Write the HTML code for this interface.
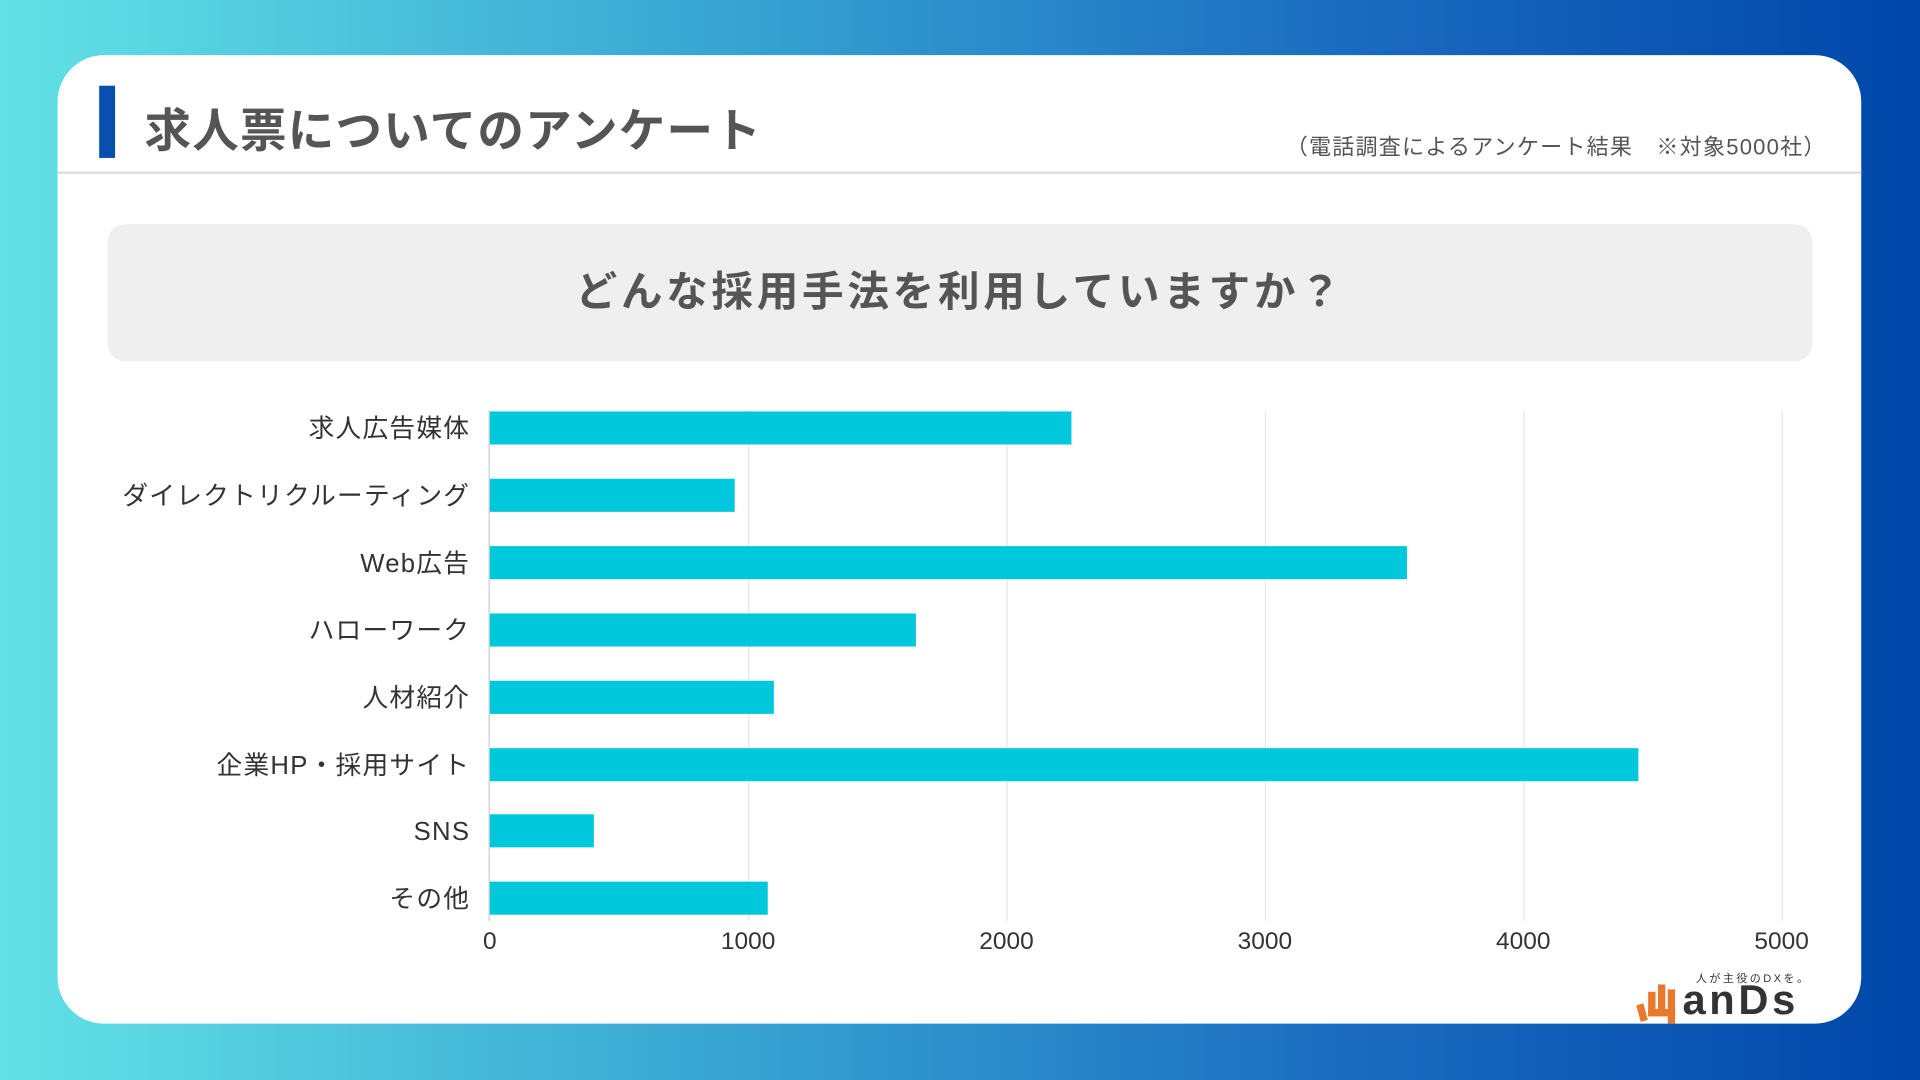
<!DOCTYPE html>
<html><head><meta charset="utf-8"><style>
html,body{margin:0;padding:0;width:1920px;height:1080px;overflow:hidden}
body{background:linear-gradient(90deg,#62e2e6 0%,#3aa9d4 35%,#1a6cc0 70%,#0046aa 100%);font-family:"Liberation Sans","Noto Sans CJK JP",sans-serif}
#w{position:absolute;left:0;top:0;width:1568px;height:882px;transform:scale(1.22449);transform-origin:0 0}
.card{position:absolute;left:47px;top:45px;width:1473px;height:791px;background:#fff;border-radius:38px}
.abs{position:absolute}
.lbl{position:absolute;right:1184px;font-size:21px;color:#333;white-space:nowrap;line-height:26px;letter-spacing:1px}
.bar{position:absolute;left:400px;height:27px;background:#00c8dc}
.grid{position:absolute;top:335px;height:417px;width:1px;background:#e6e6e6}
.tk{position:absolute;top:758px;font-size:20px;color:#333;width:80px;text-align:center}
</style></head><body><div id="w">
<div class="card"></div>
<div class="abs" style="left:81px;top:70px;width:13px;height:59px;background:#0a4fb0"></div>
<div class="abs" style="left:118px;top:76px;font-size:38px;font-weight:bold;color:#555;letter-spacing:1px">求人票についてのアンケート</div>
<div class="abs" style="left:1050px;top:106px;font-size:18px;color:#555;white-space:nowrap;letter-spacing:1px">（電話調査によるアンケート結果　※対象5000社）</div>
<div class="abs" style="left:47px;top:140px;width:1473px;height:2px;background:#ddd"></div>
<div class="abs" style="left:88px;top:183px;width:1392px;height:112px;background:#efefef;border-radius:14px;text-align:center;line-height:112px;font-size:34px;font-weight:bold;color:#555;letter-spacing:3px">どんな採用手法を利用していますか？</div>
<div class="grid" style="left:611px"></div><div class="grid" style="left:822px"></div><div class="grid" style="left:1033px"></div><div class="grid" style="left:1244px"></div><div class="grid" style="left:1455px"></div>
<div class="abs" style="left:399px;top:335px;width:1px;height:417px;background:#ccc"></div>
<div class="bar" style="top:336px;width:475px"></div>
<div class="bar" style="top:391px;width:200px"></div>
<div class="bar" style="top:446px;width:749px"></div>
<div class="bar" style="top:501px;width:348px"></div>
<div class="bar" style="top:556px;width:232px"></div>
<div class="bar" style="top:611px;width:938px"></div>
<div class="bar" style="top:665px;width:85px"></div>
<div class="bar" style="top:720px;width:227px"></div>
<div class="lbl" style="top:338px">求人広告媒体</div>
<div class="lbl" style="top:393px">ダイレクトリクルーティング</div>
<div class="lbl" style="top:448px">Web広告</div>
<div class="lbl" style="top:503px">ハローワーク</div>
<div class="lbl" style="top:558px">人材紹介</div>
<div class="lbl" style="top:613px">企業HP・採用サイト</div>
<div class="lbl" style="top:667px">SNS</div>
<div class="lbl" style="top:722px">その他</div>
<div class="tk" style="left:360px">0</div><div class="tk" style="left:571px">1000</div><div class="tk" style="left:782px">2000</div><div class="tk" style="left:993px">3000</div><div class="tk" style="left:1204px">4000</div><div class="tk" style="left:1415px">5000</div>
<div class="abs" style="left:1385px;top:792px;font-size:9px;color:#333;letter-spacing:2px">人が主役のDXを。</div>
<svg class="abs" style="left:1336px;top:798px" width="40" height="38"><g fill="#e8782a"><rect x="2" y="22" width="6" height="14" transform="rotate(-15 5 29)"/><rect x="10" y="12" width="6" height="20"/><rect x="18" y="6" width="6" height="26"/><rect x="26" y="10" width="6" height="28"/><rect x="10" y="26" width="22" height="6"/></g></svg>
<div class="abs" style="left:1374px;top:798px;font-size:34px;font-weight:bold;color:#333;letter-spacing:3px">anDs</div>
</div></body></html>
